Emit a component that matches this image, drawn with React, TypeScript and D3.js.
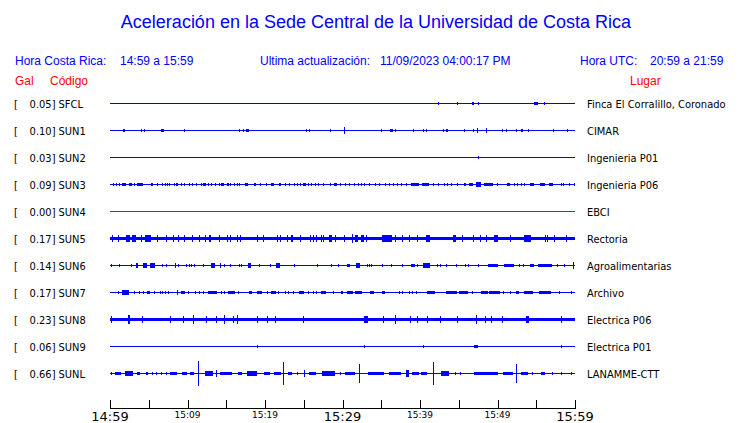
import * as d3 from 'd3';
import React from 'react';

// estaciones, de arriba hacia abajo
const codes = ['SFCL', 'SUN1', 'SUN2', 'SUN3', 'SUN4', 'SUN5', 'SUN6', 'SUN7', 'SUN8', 'SUN9', 'SUNL'];
const gal = [0.05, 0.1, 0.03, 0.09, 0.0, 0.17, 0.14, 0.17, 0.23, 0.06, 0.66];
const places = [
  'Finca El Corralillo, Coronado',
  'CIMAR',
  'Ingenieria P01',
  'Ingenieria P06',
  'EBCI',
  'Rectoria',
  'Agroalimentarias',
  'Archivo',
  'Electrica P06',
  'Electrica P01',
  'LANAMME-CTT',
];
// ruido de fondo (amplitud relativa)
const noise = [0, 0, 0, 0, 0, 0.11, 0, 0, 0.11, 0, 0];

// rafagas: [minuto, amplitud relativa, duracion en minutos]
type Burst = [number, number, number?];

const sfcl: Burst[] = [[42.45, 0.075], [44.8, 0.075], [46.8, 0.075, 0.3], [47.5, 0.11], [55.0, 0.11, 0.5], [56.1, 0.11]];
const sun1: Burst[] = [
  [1.77, 0.11, 0.25], [4.0, 0.11], [4.43, 0.11], [6.76, 0.11, 0.4], [9.6, 0.075], [16.7, 0.075], [17.2, 0.11],
  [17.7, 0.11, 0.4], [25.4, 0.11], [25.7, 0.11], [28.5, 0.11], [30.2, 0.22], [35.0, 0.075], [36.3, 0.11, 0.4],
  [36.9, 0.075], [39.2, 0.11], [40.4, 0.11], [40.9, 0.075], [43.0, 0.075], [43.5, 0.11, 0.25], [45.8, 0.11],
  [46.9, 0.075], [47.4, 0.15], [48.6, 0.15], [50.7, 0.11], [51.1, 0.075], [52.5, 0.11], [53.2, 0.11, 0.25],
  [54.0, 0.075], [57.2, 0.11], [59.0, 0.11],
];
const sun2: Burst[] = [[47.5, 0.075]];
const sun3: Burst[] = [
  [0.39, 0.075], [0.81, 0.075], [1.25, 0.075], [1.8, 0.11, 0.6], [2.6, 0.11, 0.35], [3.14, 0.075], [3.85, 0.11, 0.7],
  [5.4, 0.11, 0.3], [6.1, 0.075], [6.76, 0.075], [7.2, 0.075], [7.37, 0.075], [7.67, 0.075], [8.3, 0.075],
  [8.66, 0.11, 0.3], [9.27, 0.075], [9.6, 0.11], [10.3, 0.11], [10.7, 0.075], [11.2, 0.075], [11.8, 0.075],
  [12.2, 0.11, 0.3], [12.7, 0.075], [13.15, 0.075], [13.6, 0.075], [14.1, 0.075], [14.5, 0.11, 0.3],
  [15.2, 0.11, 0.3], [15.6, 0.075], [16.0, 0.075], [16.4, 0.075], [16.7, 0.075], [17.6, 0.11, 0.3], [18.6, 0.075],
  [18.8, 0.075], [19.4, 0.075], [20.2, 0.075], [21.0, 0.11, 0.45], [21.9, 0.11, 0.3], [22.6, 0.075], [23.1, 0.075],
  [23.75, 0.075], [24.2, 0.075], [24.6, 0.075], [25.1, 0.11, 0.3], [25.6, 0.075], [26.0, 0.075], [26.5, 0.075],
  [26.9, 0.075], [27.5, 0.075], [28.5, 0.075], [29.1, 0.11, 0.45], [29.7, 0.075], [30.4, 0.075], [30.9, 0.075],
  [31.5, 0.075], [32.0, 0.075], [32.4, 0.075], [32.8, 0.075], [33.45, 0.11], [34.2, 0.075], [34.8, 0.075],
  [35.5, 0.075], [36.1, 0.075], [36.6, 0.075], [37.1, 0.075], [37.6, 0.075], [38.2, 0.075], [39.4, 0.11, 1.0],
  [40.7, 0.11, 1.0], [41.7, 0.075], [42.45, 0.11], [43.1, 0.075], [43.6, 0.075], [44.1, 0.075], [44.8, 0.075],
  [45.8, 0.11, 0.3], [46.55, 0.11, 0.45], [47.5, 0.185, 0.65], [48.85, 0.11, 1.1], [50.0, 0.075], [51.4, 0.11, 0.45],
  [52.15, 0.075], [52.6, 0.075], [53.1, 0.075], [53.5, 0.075], [54.45, 0.11, 0.45], [55.8, 0.11, 0.6],
  [56.9, 0.11, 0.5], [58.2, 0.075], [58.5, 0.075], [59.3, 0.11], [59.9, 0.075],
];
const sun4: Burst[] = [];
const sun5: Burst[] = [
  [0.3, 0.2], [1.07, 0.2], [2.3, 0.2, 0.45], [3.05, 0.2, 0.5], [4.1, 0.2], [4.9, 0.2, 0.8], [6.1, 0.2], [7.33, 0.2],
  [8.2, 0.2], [8.8, 0.2], [9.6, 0.2], [10.6, 0.2], [11.6, 0.2], [12.3, 0.2], [12.9, 0.2, 0.3], [14.1, 0.2],
  [15.2, 0.2], [15.5, 0.2], [16.4, 0.2], [16.9, 0.2], [19.0, 0.2], [19.75, 0.2], [21.55, 0.2], [22.0, 0.2],
  [22.85, 0.2], [23.5, 0.2, 0.3], [24.6, 0.2], [25.9, 0.2], [26.3, 0.2], [26.6, 0.2], [27.3, 0.2], [27.6, 0.2],
  [28.45, 0.2, 0.3], [29.1, 0.2], [30.2, 0.2], [31.25, 0.26], [31.8, 0.2, 0.3], [32.6, 0.2, 0.3], [33.1, 0.2],
  [35.8, 0.22, 1.3], [36.85, 0.2], [37.7, 0.2], [38.7, 0.2], [39.7, 0.2], [41.0, 0.2, 0.55], [44.45, 0.2, 0.3],
  [45.5, 0.2], [46.9, 0.2], [47.85, 0.2], [48.6, 0.2], [49.8, 0.2, 0.45], [51.7, 0.2], [53.9, 0.2, 0.85],
  [56.25, 0.2], [56.5, 0.2], [57.3, 0.2], [58.9, 0.2],
];
const sun6: Burst[] = [
  [0.13, 0.11], [1.25, 0.11], [2.8, 0.075], [3.5, 0.185, 0.35], [4.5, 0.15, 0.45], [5.5, 0.15, 0.65], [6.76, 0.11],
  [7.33, 0.11], [8.5, 0.185], [8.9, 0.11], [9.9, 0.11], [10.2, 0.11], [10.55, 0.11], [10.9, 0.11], [12.05, 0.11],
  [13.3, 0.15, 0.45], [14.25, 0.185], [14.8, 0.11], [15.55, 0.11], [16.7, 0.11], [17.0, 0.11], [18.0, 0.15, 0.3],
  [19.3, 0.11], [20.7, 0.11], [21.7, 0.185, 0.5], [23.8, 0.11], [26.8, 0.11], [28.6, 0.11], [29.5, 0.11],
  [30.8, 0.11, 0.45], [32.0, 0.15, 0.45], [33.2, 0.11], [33.5, 0.11], [33.7, 0.11], [35.1, 0.11], [36.3, 0.11],
  [37.7, 0.11], [39.1, 0.11, 0.45], [39.7, 0.11], [40.8, 0.15, 0.9], [42.3, 0.11], [42.7, 0.11], [43.45, 0.11],
  [44.7, 0.11], [45.9, 0.11], [46.3, 0.11], [47.55, 0.11], [49.4, 0.11, 1.3], [51.5, 0.11, 1.2], [52.8, 0.11],
  [53.4, 0.11], [54.5, 0.11, 0.5], [56.1, 0.11, 1.8], [57.7, 0.11], [58.7, 0.11], [59.75, 0.22],
];
const sun7: Burst[] = [
  [1.07, 0.11], [2.0, 0.185, 0.8], [3.15, 0.11], [3.85, 0.11], [4.3, 0.11], [4.95, 0.11, 0.45], [5.7, 0.11],
  [6.5, 0.11], [6.8, 0.11], [7.1, 0.11], [7.5, 0.11], [8.75, 0.185], [9.4, 0.11, 0.45], [10.1, 0.11], [11.0, 0.11],
  [11.6, 0.11], [12.1, 0.11], [13.2, 0.11, 1.15], [14.35, 0.11], [14.8, 0.11], [15.7, 0.11, 0.85], [16.6, 0.11],
  [18.1, 0.11, 0.45], [19.3, 0.11, 0.65], [20.3, 0.11], [21.1, 0.11, 0.6], [21.75, 0.11], [22.6, 0.11], [23.0, 0.11],
  [23.7, 0.11], [24.7, 0.11, 0.65], [25.6, 0.11], [26.2, 0.11], [26.6, 0.11], [27.5, 0.11, 0.65], [28.9, 0.11],
  [29.9, 0.11], [30.0, 0.11], [31.0, 0.11, 0.8], [32.1, 0.11, 0.85], [33.8, 0.11, 0.5], [35.3, 0.11, 0.45],
  [37.3, 0.11], [37.7, 0.11], [38.6, 0.11], [39.0, 0.11], [39.6, 0.11], [41.4, 0.11, 1.0], [44.1, 0.11, 1.4],
  [45.6, 0.11, 1.1], [46.8, 0.11], [48.3, 0.11, 0.85], [49.6, 0.11, 1.4], [50.8, 0.11], [51.7, 0.11],
  [52.6, 0.11, 0.45], [53.95, 0.11, 1.15], [56.15, 0.11, 1.5], [58.0, 0.11], [59.5, 0.11],
];
const sun8: Burst[] = [
  [0.2, 0.2], [2.45, 0.26, 0.35], [4.2, 0.2], [7.75, 0.2], [9.5, 0.2], [10.8, 0.26], [12.4, 0.2], [13.8, 0.2],
  [14.8, 0.26], [15.95, 0.2], [16.5, 0.26], [19.0, 0.2], [20.3, 0.2], [21.4, 0.2], [25.0, 0.2], [33.0, 0.2, 0.5],
  [35.3, 0.2], [36.85, 0.26], [38.8, 0.2], [39.7, 0.2], [41.0, 0.2], [42.7, 0.2], [44.9, 0.2], [47.3, 0.3],
  [48.4, 0.2], [49.2, 0.2], [50.65, 0.2], [53.9, 0.2, 0.45], [58.2, 0.2],
];
const sun9: Burst[] = [[19.0, 0.075], [32.8, 0.075], [40.4, 0.075], [47.2, 0.11, 0.5], [58.2, 0.075]];
const sunl: Burst[] = [
  [0.13, 0.11], [1.03, 0.11, 0.8], [2.45, 0.15, 1.15], [3.65, 0.11, 0.45], [4.75, 0.11, 0.25], [5.45, 0.11],
  [6.05, 0.11], [6.6, 0.11], [7.25, 0.11], [8.2, 0.11, 0.85], [9.6, 0.11, 0.6], [10.6, 0.11, 0.5], [11.4, 0.89],
  [12.8, 0.15, 1.1], [13.7, 0.22], [15.0, 0.11, 1.5], [16.8, 0.11, 0.45], [18.3, 0.15, 1.3], [20.3, 0.11, 0.8],
  [21.6, 0.11, 1.0], [22.4, 0.81], [23.2, 0.11, 0.5], [24.15, 0.11], [25.1, 0.22], [26.1, 0.11, 0.85],
  [28.2, 0.185, 1.7], [29.7, 0.11], [31.0, 0.11, 1.3], [32.25, 0.7], [34.3, 0.11, 2.1], [36.75, 0.11, 1.5],
  [38.4, 0.22, 0.45], [39.45, 0.11, 0.85], [40.5, 0.11, 0.85], [41.7, 0.81], [43.2, 0.185, 1.1], [44.6, 0.11],
  [45.25, 0.11], [48.5, 0.11, 3.0], [51.3, 0.11, 1.3], [52.45, 0.7], [53.45, 0.11, 0.85], [54.5, 0.11],
  [55.85, 0.11, 0.5], [57.1, 0.11], [58.2, 0.11], [59.5, 0.11],
];
const bursts = [sfcl, sun1, sun2, sun3, sun4, sun5, sun6, sun7, sun8, sun9, sunl];

// eje de tiempo (minutos desde 14:59)
const tickMinutes = [0, 5, 10, 15, 20, 25, 30, 35, 40, 45, 50, 55, 60];
const majorLabels: [number, string][] = [[0, '14:59'], [30, '15:29'], [60, '15:59']];
const minorLabels: [number, string][] = [[10, '15:09'], [20, '15:19'], [40, '15:39'], [50, '15:49']];

const BLUE = '#0000ff';
const RED = '#ff0000';
const sans = '"Liberation Sans", Arial, sans-serif';
const small = '"DejaVu Sans Condensed", "DejaVu Sans", sans-serif';

export default function App() {
  const width = 740;
  const height = 423;

  const x = d3.scaleLinear().domain([0, 60]).range([110, 575]);
  const y = d3.scalePoint<string>().domain(codes).range([103.5, 373.5]);
  const amp = d3.scaleLinear().domain([0, 1]).range([0, 13.5]);

  return (
    <svg
      width={width}
      height={height}
      style={{ position: 'absolute', left: 0, top: 0, background: '#fff' }}
    >
      <text x={376} y={28} textAnchor="middle" fontFamily={sans} fontSize={18} fill={BLUE}>
        Aceleración en la Sede Central de la Universidad de Costa Rica
      </text>

      <g fontFamily={sans} fontSize={12} fill={BLUE}>
        <text x={15} y={64.5}>Hora Costa Rica:</text>
        <text x={120} y={64.5}>14:59 a 15:59</text>
        <text x={260} y={64.5}>Ultima actualización:</text>
        <text x={380} y={64.5}>11/09/2023 04:00:17 PM</text>
        <text x={580} y={64.5}>Hora UTC:</text>
        <text x={650} y={64.5}>20:59 a 21:59</text>
      </g>
      <g fontFamily={sans} fontSize={12} fill={RED}>
        <text x={15} y={84.5}>Gal</text>
        <text x={50} y={84.5}>Código</text>
        <text x={630} y={84.5}>Lugar</text>
      </g>

      {codes.map((c, i) => {
        const cy = y(c) as number;
        const color = gal[i] === 0 ? RED : BLUE;
        const base = amp(noise[i]);
        return (
          <g key={c}>
            <g fontFamily={small} fontSize={11} fill="#000">
              <text x={14} y={cy + 4}>[</text>
              <text x={55.5} y={cy + 4} textAnchor="end">{gal[i].toFixed(2)}]</text>
              <text x={58.5} y={cy + 4}>{c}</text>
              <text x={587} y={cy + 4}>{places[i]}</text>
            </g>
            <g fill={color} shapeRendering="crispEdges">
              <rect x={x(0)} width={x(60) - x(0)} y={cy - 0.5 - base} height={2 * base + 1} />
              {bursts[i].map(([t, a, d = 0.1], j) => {
                const w = Math.max(1, x(d) - x(0));
                const h = amp(a);
                return <rect key={j} x={x(t) - w / 2} width={w} y={cy - 0.5 - h} height={2 * h + 1} />;
              })}
            </g>
          </g>
        );
      })}

      <g stroke="#000" strokeWidth={1} shapeRendering="crispEdges">
        <line x1={x(0)} x2={x(60)} y1={408.5} y2={408.5} />
        {tickMinutes.map((t) => (
          <line key={t} x1={Math.round(x(t)) + 0.5} x2={Math.round(x(t)) + 0.5} y1={400} y2={409} />
        ))}
      </g>
      <g fontFamily='"DejaVu Sans", sans-serif' fill="#000" textAnchor="middle">
        {majorLabels.map(([t, l]) => (
          <text key={l} x={x(t)} y={420.5} fontSize={13}>{l}</text>
        ))}
        {minorLabels.map(([t, l]) => (
          <text key={l} x={x(t)} y={418} fontSize={9}>{l}</text>
        ))}
      </g>
    </svg>
  );
}
